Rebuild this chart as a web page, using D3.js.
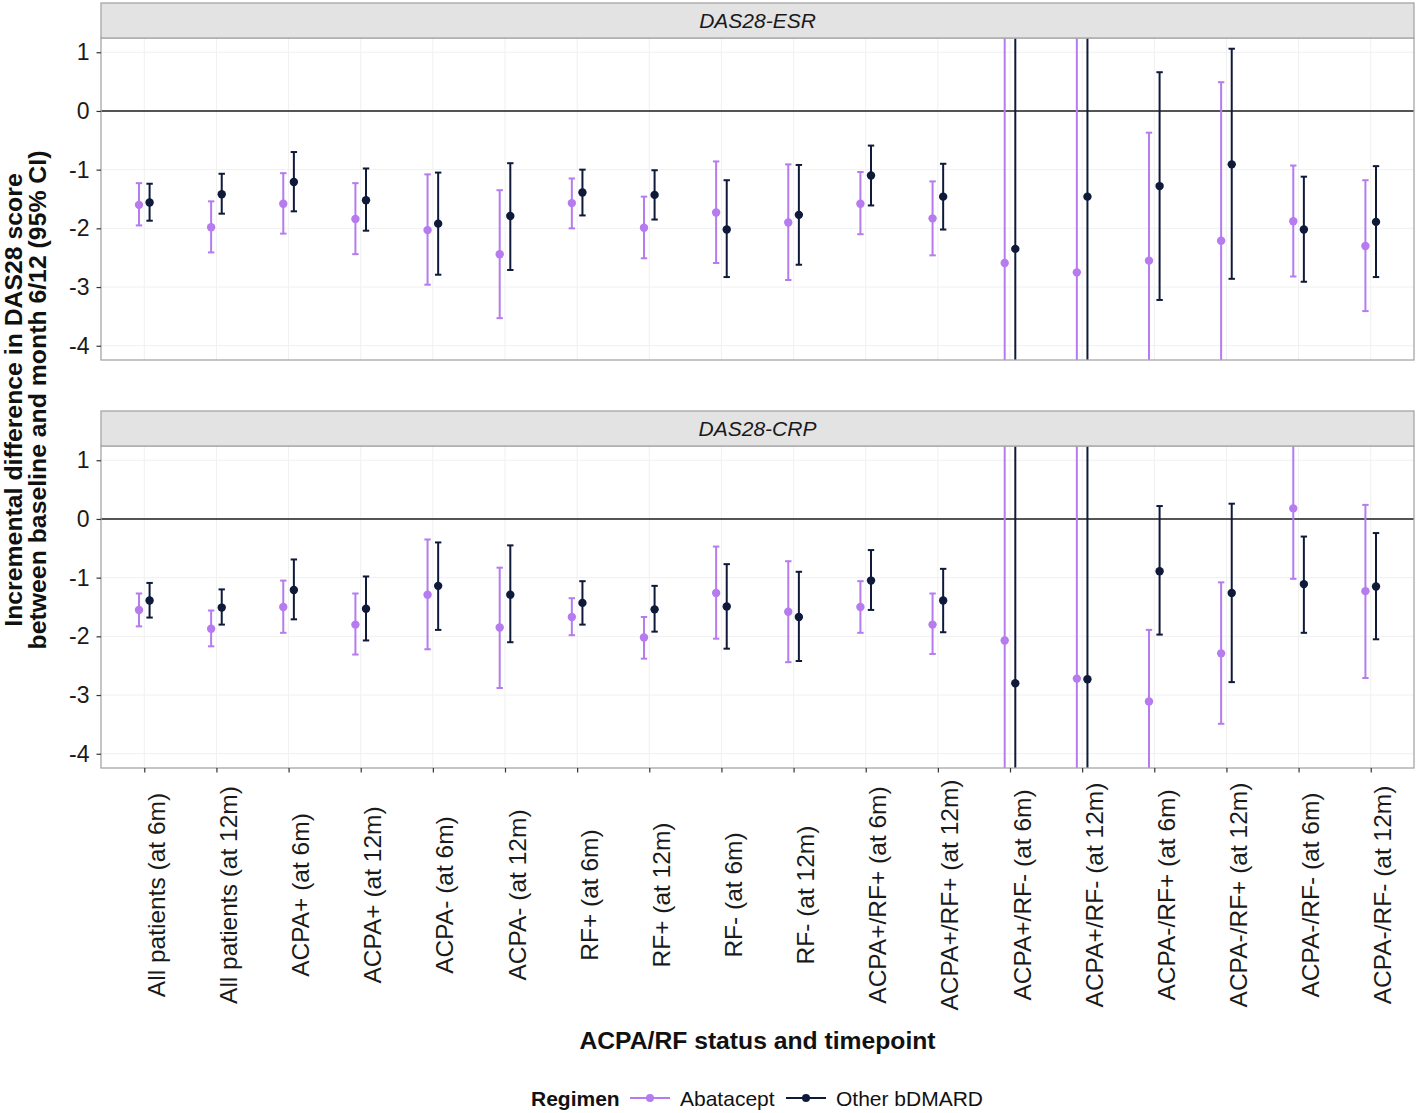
<!DOCTYPE html>
<html>
<head>
<meta charset="utf-8">
<script src="https://cdn.jsdelivr.net/npm/d3@7"></script>
<style>
  html, body { margin: 0; padding: 0; background: #fff; }
  svg { display: block; font-family: "Liberation Sans", Arial, Helvetica, sans-serif; }
</style>
</head>
<body>
<svg id="chart" width="1418" height="1113"></svg>
<script>
// ---------------- DATA ----------------
const categories = [
  "All patients (at 6m)", "All patients (at 12m)",
  "ACPA+ (at 6m)", "ACPA+ (at 12m)",
  "ACPA- (at 6m)", "ACPA- (at 12m)",
  "RF+ (at 6m)", "RF+ (at 12m)",
  "RF- (at 6m)", "RF- (at 12m)",
  "ACPA+/RF+ (at 6m)", "ACPA+/RF+ (at 12m)",
  "ACPA+/RF- (at 6m)", "ACPA+/RF- (at 12m)",
  "ACPA-/RF+ (at 6m)", "ACPA-/RF+ (at 12m)",
  "ACPA-/RF- (at 6m)", "ACPA-/RF- (at 12m)"
];
const regimens = ["Abatacept", "Other bDMARD"];
const facets = ["DAS28-ESR", "DAS28-CRP"];
const yTicks = [1, 0, -1, -2, -3, -4];

// DAS28-ESR
const esrAbaEst = [-1.60, -1.98, -1.58, -1.84, -2.03, -2.44, -1.57, -1.99, -1.73, -1.90, -1.58, -1.83, -2.59, -2.75, -2.55, -2.21, -1.88, -2.30];
const esrAbaLo  = [-1.95, -2.41, -2.09, -2.44, -2.96, -3.53, -2.00, -2.51, -2.59, -2.88, -2.10, -2.46, -7.0, -7.5, -4.8, -4.9, -2.82, -3.41];
const esrAbaHi  = [-1.23, -1.54, -1.06, -1.23, -1.08, -1.35, -1.15, -1.46, -0.86, -0.91, -1.04, -1.20, 2.0, 2.2, -0.37, 0.49, -0.93, -1.18];
const esrOthEst = [-1.56, -1.42, -1.21, -1.52, -1.92, -1.79, -1.39, -1.43, -2.02, -1.77, -1.10, -1.46, -2.35, -1.46, -1.28, -0.91, -2.02, -1.89];
const esrOthLo  = [-1.87, -1.75, -1.71, -2.04, -2.79, -2.71, -1.78, -1.85, -2.83, -2.62, -1.61, -2.02, -6.0, -5.5, -3.22, -2.86, -2.91, -2.83];
const esrOthHi  = [-1.24, -1.07, -0.70, -0.98, -1.05, -0.89, -1.00, -1.01, -1.18, -0.92, -0.59, -0.90, 1.8, 2.5, 0.66, 1.06, -1.12, -0.94];

// DAS28-CRP
const crpAbaEst = [-1.55, -1.87, -1.50, -1.80, -1.29, -1.85, -1.67, -2.02, -1.26, -1.58, -1.50, -1.80, -2.07, -2.72, -3.11, -2.29, 0.18, -1.23];
const crpAbaLo  = [-1.83, -2.17, -1.94, -2.31, -2.22, -2.88, -1.98, -2.38, -2.04, -2.44, -1.94, -2.30, -6.5, -7.0, -4.6, -3.49, -1.02, -2.71];
const crpAbaHi  = [-1.27, -1.56, -1.05, -1.27, -0.35, -0.83, -1.35, -1.67, -0.47, -0.72, -1.06, -1.27, 2.0, 2.1, -1.89, -1.08, 1.5, 0.24];
const crpOthEst = [-1.39, -1.51, -1.21, -1.53, -1.14, -1.29, -1.43, -1.54, -1.49, -1.67, -1.05, -1.39, -2.80, -2.73, -0.89, -1.26, -1.11, -1.15];
const crpOthLo  = [-1.68, -1.80, -1.71, -2.07, -1.89, -2.10, -1.80, -1.92, -2.21, -2.42, -1.55, -1.93, -6.0, -6.2, -1.97, -2.78, -1.94, -2.05];
const crpOthHi  = [-1.09, -1.20, -0.69, -0.98, -0.40, -0.45, -1.06, -1.14, -0.77, -0.90, -0.53, -0.85, 1.9, 2.0, 0.22, 0.26, -0.30, -0.24];

// ---------------- BUILD ----------------
const colors = { "Abatacept": "#b57bef", "Other bDMARD": "#0f1a3b" };
const dodge = { "Abatacept": -5.3, "Other bDMARD": 5.3 };

function rows(est, lo, hi, reg) {
  return categories.map((c, i) => ({ cat: c, est: est[i], lo: lo[i], hi: hi[i], reg }));
}
const panelData = {
  "DAS28-ESR": rows(esrAbaEst, esrAbaLo, esrAbaHi, "Abatacept").concat(rows(esrOthEst, esrOthLo, esrOthHi, "Other bDMARD")),
  "DAS28-CRP": rows(crpAbaEst, crpAbaLo, crpAbaHi, "Abatacept").concat(rows(crpOthEst, crpOthLo, crpOthHi, "Other bDMARD"))
};

const svg = d3.select("#chart");
const left = 101, right = 1414;
const layout = [
  { stripTop: 3, top: 38, bottom: 360 },
  { stripTop: 411, top: 446, bottom: 768 }
];

const x = d3.scalePoint().domain(categories).range([left, right]).padding(0.6);
const yDomain = [-4.243, 1.243];
const grid = "#f0f0f0";
const border = "#a6a6a6";

facets.forEach((f, pi) => {
  const L = layout[pi];
  const y = d3.scaleLinear().domain(yDomain).range([L.bottom, L.top]);
  const g = svg.append("g");

  const clipId = "clip" + pi;
  svg.append("clipPath").attr("id", clipId)
    .append("rect").attr("x", left).attr("y", L.top).attr("width", right - left).attr("height", L.bottom - L.top);

  // grid
  g.append("g").selectAll("line").data(yTicks).join("line")
    .attr("x1", left).attr("x2", right)
    .attr("y1", d => y(d)).attr("y2", d => y(d))
    .attr("stroke", grid).attr("stroke-width", 1);
  g.append("g").selectAll("line").data(categories).join("line")
    .attr("x1", d => x(d)).attr("x2", d => x(d))
    .attr("y1", L.top).attr("y2", L.bottom)
    .attr("stroke", grid).attr("stroke-width", 1);

  // zero line
  g.append("line").attr("x1", left).attr("x2", right)
    .attr("y1", y(0)).attr("y2", y(0))
    .attr("stroke", "#1e1e1e").attr("stroke-width", 1.6);

  // error bars + points
  const marks = g.append("g").attr("clip-path", `url(#${clipId})`);
  const data = panelData[f];
  const cw = 3.2;
  marks.append("g").selectAll("line").data(data).join("line")
    .attr("x1", d => x(d.cat) + dodge[d.reg]).attr("x2", d => x(d.cat) + dodge[d.reg])
    .attr("y1", d => y(d.lo)).attr("y2", d => y(d.hi))
    .attr("stroke", d => colors[d.reg]).attr("stroke-width", 2);
  marks.append("g").selectAll("line").data(data).join("line")
    .attr("x1", d => x(d.cat) + dodge[d.reg] - cw).attr("x2", d => x(d.cat) + dodge[d.reg] + cw)
    .attr("y1", d => y(d.lo)).attr("y2", d => y(d.lo))
    .attr("stroke", d => colors[d.reg]).attr("stroke-width", 2);
  marks.append("g").selectAll("line").data(data).join("line")
    .attr("x1", d => x(d.cat) + dodge[d.reg] - cw).attr("x2", d => x(d.cat) + dodge[d.reg] + cw)
    .attr("y1", d => y(d.hi)).attr("y2", d => y(d.hi))
    .attr("stroke", d => colors[d.reg]).attr("stroke-width", 2);
  marks.append("g").selectAll("circle").data(data).join("circle")
    .attr("cx", d => x(d.cat) + dodge[d.reg]).attr("cy", d => y(d.est))
    .attr("r", 4.2).attr("fill", d => colors[d.reg]);

  // panel border
  g.append("rect").attr("x", left).attr("y", L.top).attr("width", right - left).attr("height", L.bottom - L.top)
    .attr("fill", "none").attr("stroke", border).attr("stroke-width", 1.3);

  // strip
  g.append("rect").attr("x", left).attr("y", L.stripTop).attr("width", right - left).attr("height", L.top - L.stripTop)
    .attr("fill", "#e3e3e3").attr("stroke", border).attr("stroke-width", 1.3);
  g.append("text").attr("x", (left + right) / 2).attr("y", (L.stripTop + L.top) / 2)
    .attr("dy", "0.36em").attr("text-anchor", "middle")
    .attr("font-style", "italic").attr("font-size", 21).attr("fill", "#1a1a1a")
    .text(f);

  // y axis
  const yAxis = d3.axisLeft(y).tickValues(yTicks).tickSize(4.5).tickPadding(7).tickFormat(d => String(d));
  const ya = g.append("g").attr("transform", `translate(${left},0)`).call(yAxis);
  ya.select(".domain").remove();
  ya.selectAll(".tick line").attr("stroke", "#333").attr("stroke-width", 1.2);
  ya.selectAll(".tick text").attr("font-size", 23).attr("fill", "#1a1a1a")
    .attr("font-family", "Liberation Sans, Arial, sans-serif");

  // x axis (bottom panel only)
  if (pi === facets.length - 1) {
    const xAxis = d3.axisBottom(x).tickSize(4.5).tickPadding(0);
    const xa = g.append("g").attr("transform", `translate(0,${L.bottom})`).call(xAxis);
    xa.select(".domain").remove();
    xa.selectAll(".tick line").attr("stroke", "#333").attr("stroke-width", 1.2);
    xa.selectAll(".tick text")
      .attr("font-size", 24.5).attr("fill", "#1a1a1a")
      .attr("font-family", "Liberation Sans, Arial, sans-serif")
      .attr("text-anchor", "middle")
      .attr("transform", "rotate(-90)")
      .attr("x", -127).attr("y", 20).attr("dy", 0);
  }
});

// axis titles
svg.append("text").attr("x", 757.5).attr("y", 1049).attr("text-anchor", "middle")
  .attr("font-weight", "bold").attr("font-size", 24.7).attr("fill", "#111")
  .text("ACPA/RF status and timepoint");

const yt = svg.append("text").attr("transform", "translate(0,400) rotate(-90)")
  .attr("text-anchor", "middle").attr("font-weight", "bold").attr("font-size", 24.8).attr("fill", "#111");
yt.append("tspan").attr("x", 0).attr("y", 22).text("Incremental difference in DAS28 score");
yt.append("tspan").attr("x", 0).attr("y", 46).text("between baseline and month 6/12 (95% CI)");

// legend
const lg = svg.append("g").attr("transform", "translate(0,1098)");
lg.append("text").attr("x", 531).attr("y", 0).attr("dy", "0.36em")
  .attr("font-weight", "bold").attr("font-size", 21).attr("fill", "#111").text("Regimen");
const legendPos = [{ reg: "Abatacept", x0: 630 }, { reg: "Other bDMARD", x0: 786 }];
legendPos.forEach(p => {
  lg.append("line").attr("x1", p.x0).attr("x2", p.x0 + 40).attr("y1", 0).attr("y2", 0)
    .attr("stroke", colors[p.reg]).attr("stroke-width", 2);
  lg.append("circle").attr("cx", p.x0 + 20).attr("cy", 0).attr("r", 4).attr("fill", colors[p.reg]);
  lg.append("text").attr("x", p.x0 + 50).attr("y", 0).attr("dy", "0.36em")
    .attr("font-size", 21).attr("fill", "#111").text(p.reg);
});
</script>
</body>
</html>
